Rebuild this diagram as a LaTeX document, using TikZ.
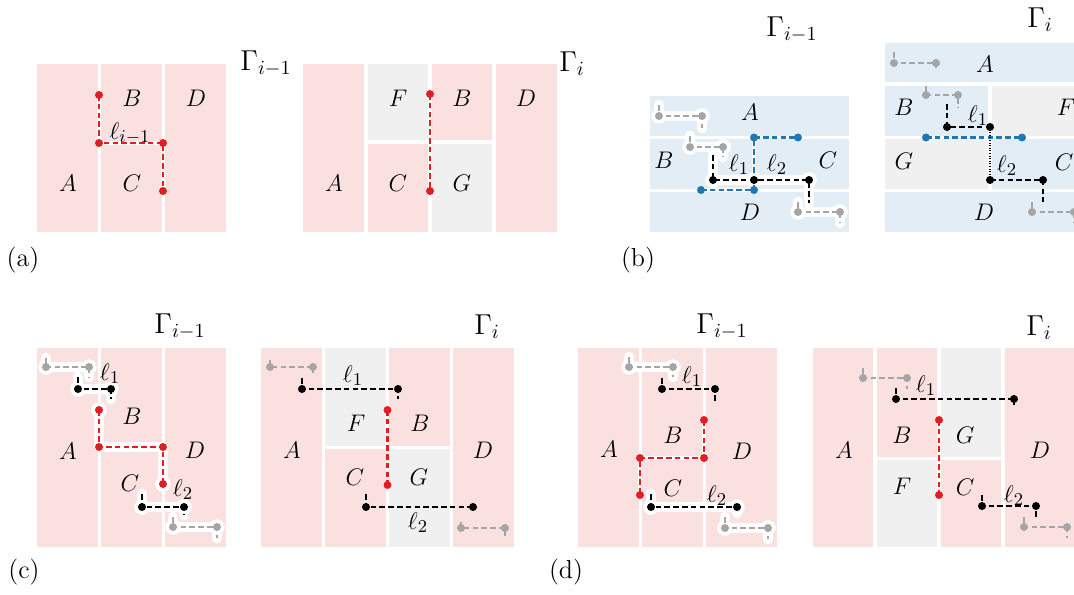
\documentclass[tikz,border=0pt]{standalone}
\usepackage{xcolor}
\definecolor{pinkbg}{RGB}{251,224,224}
\definecolor{bluebg}{RGB}{226,237,245}
\definecolor{graybg}{RGB}{240,240,240}
\definecolor{redl}{RGB}{222,32,36}
\definecolor{bluel}{RGB}{31,119,180}
\definecolor{grayl}{RGB}{165,165,165}
\tikzset{
 lab/.style={font=\fontsize{12.2}{14}\selectfont, inner sep=0pt},
 gam/.style={font=\fontsize{14}{16}\selectfont, inner sep=0pt, anchor=base},
 ell/.style={font=\fontsize{13}{15}\selectfont, inner sep=0pt, anchor=base},
 panel/.style={font=\fontsize{13}{15}\selectfont, inner sep=0pt},
 dl/.style={line width=1.1pt, dash pattern=on 2.8pt off 1.6pt},
 halo/.style={white, line width=5.4pt, line cap=round, line join=round},
 under/.style={white, line width=1.6pt},
 dotl/.style={line width=0.6pt, dash pattern=on 0.4pt off 0.9pt},
}
\newcommand{\R}[5]{\fill[#1] (#2,#3) rectangle (#4,#5);}
\newcommand{\HStep}[5]{\draw[halo] (#1,#2) -- (#1,#3) -- (#4,#3) -- (#4,#5);
  \fill[white] (#1,#3) circle (3.9pt) (#4,#3) circle (3.9pt);}
\newcommand{\DStep}[6]{\draw[dl,#1] (#2,#3) -- (#2,#4) -- (#5,#4) -- (#5,#6);
  \fill[#1] (#2,#4) circle (2pt) (#5,#4) circle (2pt);}
\begin{document}
\begin{tikzpicture}[x=0.5pt,y=-0.5pt]
\useasboundingbox (0,0) rectangle (1074,594);
\clip (0,0) rectangle (1074,594);

% ---------------- panel (a) left
\R{pinkbg}{37}{64}{97.5}{232}
\R{pinkbg}{100.5}{64}{161.5}{232}
\R{pinkbg}{164.5}{64}{226}{232}
\draw[under] (99,95) -- (99,143) -- (163,143) -- (163,191);
\draw[dl,redl] (99,95) -- (99,143) -- (163,143) -- (163,191);
\fill[redl] (99,95) circle (2pt) (99,143) circle (2pt) (163,143) circle (2pt) (163,191) circle (2pt);
\node[lab] (aB) at (132,98) {$B$};
\node[lab] (aD) at (196,98) {$D$};
\node[lab] (aA) at (68,183) {$A$};
\node[lab] (aC) at (132,183) {$C$};
\node[ell] (aL) at (130,139) {$\ell_{i-1}$};
\node[gam] (aG1) at (266,70) {$\Gamma_{i-1}$};
\node[panel] (pa) at (23,260) {(a)};

% ---------------- panel (a) right
\R{pinkbg}{303}{64}{364}{232}
\R{graybg}{368}{64}{428}{140}
\R{pinkbg}{368}{144}{428}{232}
\R{pinkbg}{432}{64}{492}{140}
\R{graybg}{432}{144}{492}{232}
\R{pinkbg}{496}{64}{557}{232}
\draw[under] (430,94) -- (430,191);
\draw[dl,redl] (430,94) -- (430,191);
\fill[redl] (430,94) circle (2pt) (430,191) circle (2pt);
\node[lab] (a2F) at (398,98) {$F$};
\node[lab] (a2B) at (462,98) {$B$};
\node[lab] (a2D) at (526,98) {$D$};
\node[lab] (a2A) at (334,183) {$A$};
\node[lab] (a2C) at (398,183) {$C$};
\node[lab] (a2G) at (462,183) {$G$};
\node[gam] (aG2) at (572,71) {$\Gamma_{i}$};

% ---------------- panel (b) left
\R{bluebg}{650}{96}{849}{136}
\R{bluebg}{650}{139}{752.5}{188.5}
\R{bluebg}{755.5}{139}{849}{188.5}
\R{bluebg}{650}{191.5}{849}{232}
\HStep{659}{105}{116}{702}{128}
\HStep{690}{136}{147}{723}{157}
\HStep{798}{202}{212}{840}{223}
\HStep{713}{155}{180}{809}{203}
\fill[white] (754,180) circle (3.9pt);
\draw[under] (701,190) -- (754,190) -- (754,137.5) -- (798,137.5);
\draw[dl,bluel] (701,190) -- (754,190) -- (754,137.5) -- (798,137.5);
\fill[bluel] (701,190) circle (2pt) (754,190) circle (2pt) (754,137.5) circle (2pt) (798,137.5) circle (2pt);
\DStep{grayl}{659}{105}{116}{702}{128}
\DStep{grayl}{690}{136}{147}{723}{157}
\DStep{grayl}{798}{202}{212}{840}{223}
\DStep{black}{713}{155}{180}{809}{203}
\fill (754,180) circle (2pt);
\node[lab] (bA) at (750,112) {$A$};
\node[lab] (bB) at (664,160) {$B$};
\node[lab] (bC) at (828,160) {$C$};
\node[lab] (bD) at (750,212) {$D$};
\node[ell] (bL1) at (739,171) {$\ell_1$};
\node[ell] (bL2) at (777,171) {$\ell_2$};
\node[gam] (bG1) at (792,36) {$\Gamma_{i-1}$};
\node[panel] (pb) at (638,260) {(b)};

% ---------------- panel (b) right
\R{bluebg}{885}{43}{1080}{82}
\R{bluebg}{885}{86}{988}{136}
\R{graybg}{992}{86}{1080}{136}
\R{graybg}{885}{139}{988}{188.5}
\R{bluebg}{992}{139}{1080}{188.5}
\R{bluebg}{885}{191.5}{1080}{232}
\draw[under] (926,137.5) -- (1022,137.5);
\draw[dl,bluel] (926,137.5) -- (1022,137.5);
\fill[bluel] (926,137.5) circle (2pt) (1022,137.5) circle (2pt);
\DStep{grayl}{894}{52}{63}{936}{68}
\DStep{grayl}{926}{86}{95}{958}{107}
\DStep{grayl}{1032}{202}{212}{1074}{222}
\draw[dl] (947,104) -- (947,127) -- (990,127);
\fill (947,127) circle (2pt) (990,127) circle (2pt);
\draw[dotl] (990,127) -- (990,180);
\DStep{black}{990}{180}{180}{1043}{202}
\node[lab] (b2A) at (985,64) {$A$};
\node[lab] (b2B) at (904,107) {$B$};
\node[lab] (b2F) at (1066,107) {$F$};
\node[lab] (b2G) at (904,161.5) {$G$};
\node[lab] (b2C) at (1064,162) {$C$};
\node[lab] (b2D) at (984,212) {$D$};
\node[ell] (b2L1) at (978,122) {$\ell_1$};
\node[ell] (b2L2) at (1007,172) {$\ell_2$};
\node[gam] (bG2) at (1040,27) {$\Gamma_{i}$};

% ---------------- panel (c) left
\R{pinkbg}{37}{348}{97.5}{547}
\R{pinkbg}{100.5}{348}{161.5}{547}
\R{pinkbg}{164.5}{348}{226}{547}
\HStep{46}{358}{367}{89}{377}
\HStep{78}{377}{389}{111}{399}
\HStep{142}{494}{507}{184}{515}
\HStep{173}{517}{527}{217}{538}
\draw[halo] (99,410) -- (99,447) -- (163,447) -- (163,484);
\fill[white] (99,410) circle (3.9pt) (163,484) circle (3.9pt);
\draw[dl,redl] (99,410) -- (99,447) -- (163,447) -- (163,484);
\fill[redl] (99,410) circle (2pt) (99,447) circle (2pt) (163,447) circle (2pt) (163,484) circle (2pt);
\DStep{grayl}{46}{358}{367}{89}{377}
\DStep{black}{78}{377}{389}{111}{399}
\DStep{black}{142}{494}{507}{184}{515}
\DStep{grayl}{173}{517}{527}{217}{538}
\node[lab] (cA) at (68,451) {$A$};
\node[lab] (cB) at (132,416) {$B$};
\node[lab] (cD) at (195,450) {$D$};
\node[lab] (cC) at (130,483) {$C$};
\node[ell] (cL1) at (110,380) {$\ell_1$};
\node[ell] (cL2) at (183,496) {$\ell_2$};
\node[gam] (cG1) at (180,333) {$\Gamma_{i-1}$};
\node[panel] (pc) at (24,572) {(c)};

% ---------------- panel (c) right
\R{pinkbg}{261}{348}{322}{547}
\R{graybg}{325}{348}{386}{446}
\R{pinkbg}{325}{449}{386}{547}
\R{pinkbg}{389}{348}{450}{446}
\R{graybg}{389}{449}{450}{547}
\R{pinkbg}{453}{348}{514}{547}
\draw[under] (387.5,410) -- (387.5,485);
\draw[dl,redl] (387.5,410) -- (387.5,485);
\fill[redl] (387.5,410) circle (2pt) (387.5,485) circle (2pt);
\DStep{grayl}{270}{360}{367}{313}{373}
\DStep{black}{302}{378}{389}{398}{399}
\DStep{black}{366}{494}{507}{473}{511}
\DStep{grayl}{461}{522}{528}{505}{539}
\node[ell] (c2L1) at (353,382) {$\ell_1$};
\node[lab] (c2F) at (356,423) {$F$};
\node[lab] (c2B) at (420,423) {$B$};
\node[lab] (c2A) at (292,450) {$A$};
\node[lab] (c2D) at (483,450) {$D$};
\node[lab] (c2C) at (355,477) {$C$};
\node[lab] (c2G) at (419,477) {$G$};
\node[ell] (c2L2) at (418,529) {$\ell_2$};
\node[gam] (cG2) at (487,334) {$\Gamma_{i}$};

% ---------------- panel (d) left
\R{pinkbg}{578}{348}{638.5}{547}
\R{pinkbg}{641.5}{348}{702.5}{547}
\R{pinkbg}{705.5}{348}{777}{547}
\HStep{629}{357}{367}{673}{377}
\HStep{651}{494}{507}{737}{513}
\HStep{725}{517}{528}{768}{539}
\draw[under] (704,420) -- (704,458) -- (640,458) -- (640,495);
\draw[dl,redl] (704,420) -- (704,458) -- (640,458) -- (640,495);
\fill[redl] (704,420) circle (2pt) (704,458) circle (2pt) (640,458) circle (2pt) (640,495) circle (2pt);
\DStep{grayl}{629}{357}{367}{673}{377}
\DStep{black}{662}{378}{389}{715}{401}
\DStep{black}{651}{494}{507}{737}{513}
\DStep{grayl}{725}{517}{528}{768}{539}
\node[ell] (dL1) at (692,383) {$\ell_1$};
\node[lab] (dB) at (673,435) {$B$};
\node[lab] (dA) at (609,449) {$A$};
\node[lab] (dD) at (742,451) {$D$};
\node[lab] (dC) at (673,488) {$C$};
\node[ell] (dL2) at (717,502) {$\ell_2$};
\node[gam] (dG1) at (722,333) {$\Gamma_{i-1}$};
\node[panel] (pd) at (566,572) {(d)};

% ---------------- panel (d) right
\R{pinkbg}{813}{348}{873}{547}
\R{pinkbg}{877}{348}{937}{457}
\R{graybg}{877}{460}{937}{547}
\R{graybg}{941}{348}{1001}{457}
\R{pinkbg}{941}{460}{1001}{547}
\R{pinkbg}{1005}{348}{1080}{547}
\draw[under] (939,420) -- (939,495);
\draw[dl,redl] (939,420) -- (939,495);
\fill[redl] (939,420) circle (2pt) (939,495) circle (2pt);
\DStep{grayl}{863}{368}{378}{907}{389}
\DStep{black}{896}{388}{399}{1014}{405}
\DStep{black}{982}{495}{506}{1036}{517}
\DStep{grayl}{1024}{517}{527}{1067}{538}
\node[ell] (d2L1) at (926,392) {$\ell_1$};
\node[lab] (d2B) at (902,435) {$B$};
\node[lab] (d2G) at (965,435) {$G$};
\node[lab] (d2A) at (844,450) {$A$};
\node[lab] (d2D) at (1040,450) {$D$};
\node[lab] (d2F) at (902,486) {$F$};
\node[lab] (d2C) at (965,487) {$C$};
\node[ell] (d2L2) at (1014,502) {$\ell_2$};
\node[gam] (dG2) at (1039,335) {$\Gamma_{i}$};
\end{tikzpicture}
\end{document}
